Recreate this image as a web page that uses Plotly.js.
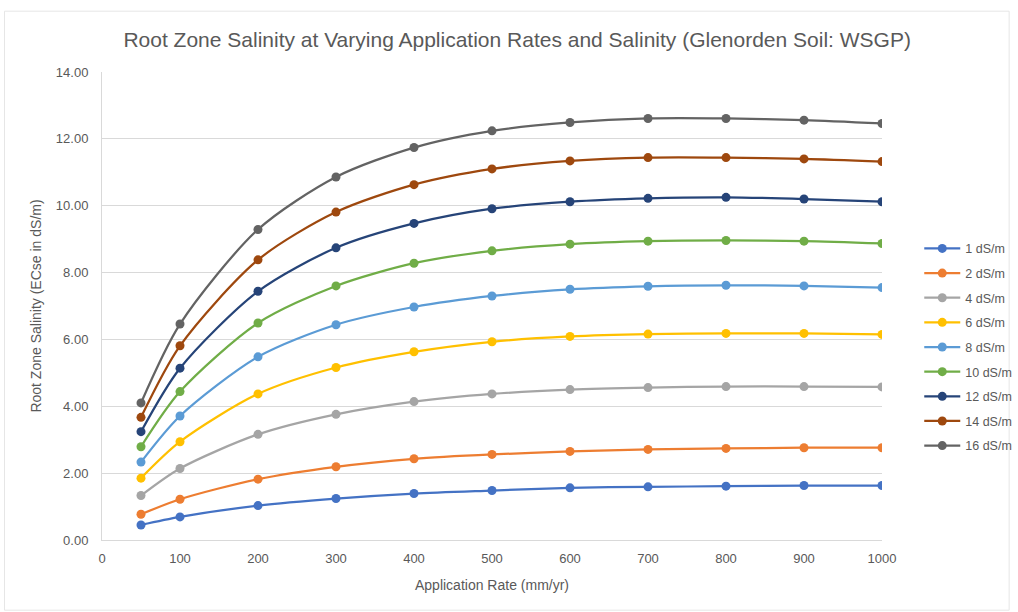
<!DOCTYPE html>
<html>
<head>
<meta charset="utf-8">
<script src="https://cdn.plot.ly/plotly-3.0.1.min.js"></script>
<style>html,body{margin:0;padding:0;background:#fff;}#chart{width:1018px;height:612px;}</style>
</head>
<body>
<div id="chart"></div>
<script>
const rates = [50, 100, 200, 300, 400, 500, 600, 700, 800, 900, 1000];
const seriesNames = ["1 dS/m", "2 dS/m", "4 dS/m", "6 dS/m", "8 dS/m", "10 dS/m", "12 dS/m", "14 dS/m", "16 dS/m"];
const s1  = [0.45, 0.69, 1.03, 1.24, 1.39, 1.48, 1.56, 1.59, 1.61, 1.63, 1.63];
const s2  = [0.77, 1.22, 1.82, 2.19, 2.43, 2.56, 2.65, 2.71, 2.74, 2.76, 2.76];
const s4  = [1.33, 2.14, 3.16, 3.76, 4.14, 4.37, 4.50, 4.56, 4.59, 4.59, 4.58];
const s6  = [1.85, 2.94, 4.37, 5.16, 5.63, 5.93, 6.09, 6.16, 6.18, 6.18, 6.15];
const s8  = [2.33, 3.71, 5.48, 6.44, 6.97, 7.30, 7.50, 7.59, 7.62, 7.60, 7.55];
const s10 = [2.79, 4.44, 6.49, 7.60, 8.28, 8.65, 8.85, 8.94, 8.96, 8.94, 8.87];
const s12 = [3.24, 5.14, 7.44, 8.74, 9.47, 9.91, 10.12, 10.22, 10.25, 10.20, 10.12];
const s14 = [3.67, 5.81, 8.38, 9.81, 10.63, 11.10, 11.34, 11.44, 11.44, 11.40, 11.32];
const s16 = [4.10, 6.46, 9.29, 10.86, 11.74, 12.24, 12.49, 12.61, 12.61, 12.56, 12.46];
const yTicks = [0, 2, 4, 6, 8, 10, 12, 14];
const xTicks = [0, 100, 200, 300, 400, 500, 600, 700, 800, 900, 1000];

const allSeries = [s1, s2, s4, s6, s8, s10, s12, s14, s16];
const colors = ["#4472C4", "#ED7D31", "#A5A5A5", "#FFC000", "#5B9BD5", "#70AD47", "#264478", "#9E480E", "#636363"];

const font = "Liberation Sans, Arial, sans-serif";
const traces = allSeries.map((vals, i) => ({
  x: rates, y: vals, name: seriesNames[i], type: "scatter", mode: "lines+markers",
  legendgroup: "g" + i,
  line: {color: colors[i], width: 2.25, shape: "spline", smoothing: 0.8},
  marker: {color: colors[i], size: 9}
}));

const layout = {
  width: 1018, height: 612,
  paper_bgcolor: "#ffffff", plot_bgcolor: "#ffffff",
  margin: {l: 102, r: 136, t: 72, b: 72},
  font: {family: font, color: "#595959", size: 13},
  title: {text: "Root Zone Salinity at Varying Application Rates and Salinity (Glenorden Soil: WSGP)",
          font: {family: font, size: 21, color: "#595959"}, x: 0.508, xanchor: "center", y: 0.935, yanchor: "middle"},
  xaxis: {range: [0, 1000], tickvals: xTicks, ticktext: xTicks.map(String), showgrid: false, zeroline: false,
          showline: true, linecolor: "#d9d9d9", linewidth: 1, ticks: "", ticklen: 0, ticklabelstandoff: 6,
          tickfont: {size: 13, color: "#595959"}, automargin: false,
          title: {text: "Application Rate (mm/yr)", font: {size: 14, color: "#595959"}, standoff: 15}},
  yaxis: {range: [0, 14], tickvals: yTicks, ticktext: yTicks.map(v => v.toFixed(2)), showgrid: true, gridcolor: "#d9d9d9",
          gridwidth: 1, zeroline: false, showline: true, linecolor: "#d9d9d9", linewidth: 1, ticks: "",
          ticklabelstandoff: 10, automargin: false,
          tickfont: {size: 13, color: "#595959"},
          title: {text: "Root Zone Salinity (ECse in dS/m)", font: {size: 14, color: "#595959"}, standoff: 10}},
  legend: {xref: "container", yref: "container", x: 0.903, xanchor: "left", y: 0.618, yanchor: "top",
           traceorder: "grouped", tracegroupgap: 5.4,
           font: {size: 12.5, color: "#595959"}, bgcolor: "rgba(0,0,0,0)", itemwidth: 36},
  shapes: [{type: "rect", xref: "paper", yref: "paper", x0: -0.125, x1: 1.163, y0: -0.15, y1: 1.13,
            line: {color: "#e6e6e6", width: 1}}],
  showlegend: true
};

Plotly.newPlot("chart", traces, layout, {displayModeBar: false, staticPlot: true});
</script>
</body>
</html>
